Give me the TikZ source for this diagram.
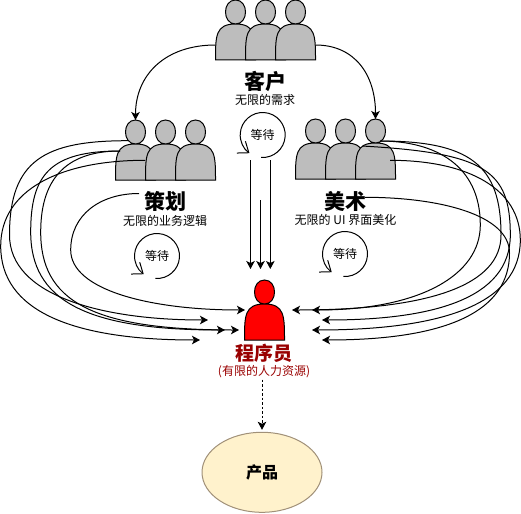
\documentclass[tikz,border=0pt]{standalone}
\usepackage{fontspec}
\setmainfont{Noto Sans CJK SC}
\usetikzlibrary{arrows.meta,shapes.geometric}
\definecolor{gente}{HTML}{BDBDBD}
\definecolor{rojotexto}{HTML}{990000}
\definecolor{crema}{HTML}{FFF2CC}
\definecolor{bordecrema}{HTML}{A09078}
\begin{document}
\begin{tikzpicture}[x=1pt,y=-1pt,line width=1pt,
		persona/.pic={
			\path[draw,fill] (-20,60) .. controls (-20,36) and (-20,24) .. (0,24)
				.. controls (-13.33,24) and (-13.33,0) .. (0,0)
				.. controls (13.33,0) and (13.33,24) .. (0,24)
				.. controls (20,24) and (20,36) .. (20,60) -- cycle;
		},
		titulo/.style={font=\fontsize{21}{24}\selectfont\bfseries},
		nota/.style={font=\fontsize{12}{14}\selectfont},
		flujo/.style={-{Stealth[length=8pt,width=8.5pt,inset=2pt]}},
		espera/.style={-{Straight Barb[length=9.5pt,width=14.6pt]}}]
	\useasboundingbox (0,0) rectangle (521,513);

	% Personas
	\foreach \px in {235.5,265.5,295.5} \pic[fill=gente] at (\px,0) {persona};
	\foreach \px in {135.5,165.5,195.5} \pic[fill=gente] at (\px,120) {persona};
	\foreach \px in {315.5,345.5,375.5} \pic[fill=gente] at (\px,119) {persona};
	\pic[fill=red] at (264.5,280) {persona};

	% Textos
	\node[titulo] (cliente) at (265,81) {客户};
	\node[nota] (clienteN) at (265,100) {无限的需求};
	\node[titulo] (planes) at (165,201) {策划};
	\node[nota] (planesN) at (165,220.5) {无限的业务逻辑};
	\node[titulo] (arte) at (345,201) {美术};
	\node[nota] (arteN) at (345.5,219.5) {无限的 UI 界面美化};
	\node[font=\fontsize{19}{22}\selectfont\bfseries,text=rojotexto] (programador) at (264,353.5) {程序员};
	\node[nota,text=rojotexto,inner sep=1pt] (recursos) at (264,372) {(有限的人力资源)};
	\node[draw=bordecrema,fill=crema,ellipse,minimum width=120pt,minimum height=80pt,inner sep=0pt,
		font=\fontsize{16}{19}\selectfont\bfseries] (producto) at (262,472.3) {产品};

	% Esperas
	\node[nota] (esperaC) at (262.7,135) {等待};
	\node[nota] (esperaP) at (157,256) {等待};
	\node[nota] (esperaA) at (345,254) {等待};
	\draw[espera] (esperaC.center) ++(-94:22.5pt) arc[start angle=-94,end angle=234,radius=22.5pt];
	\draw[espera] (esperaP.center) ++(-94:22.5pt) arc[start angle=-94,end angle=234,radius=22.5pt];
	\draw[espera] (esperaA.center) ++(-94:22.5pt) arc[start angle=-94,end angle=234,radius=22.5pt];

	% Puntos de salida y llegada
	\coordinate (cI) at (215.5,45);
	\coordinate (cD) at (315.5,45);
	\coordinate (pA) at (135.5,120);
	\coordinate (aA) at (375.5,119);
	\coordinate (v1) at (250.5,160);
	\coordinate (v2) at (260.5,200);
	\coordinate (v3) at (270.3,160);
	\coordinate (w1) at (250.5,269);
	\coordinate (w2) at (260.5,269);
	\coordinate (w3) at (270.3,269);
	\coordinate (p1) at (128,140.7);
	\coordinate (p2) at (120,151);
	\coordinate (p3) at (145,160.3);
	\coordinate (p4) at (139,193.5);
	\coordinate (l1) at (245,310);
	\coordinate (l2) at (208,320);
	\coordinate (l3) at (225,330);
	\coordinate (l4) at (239,330);
	\coordinate (l5) at (200,340);
	\coordinate (a1) at (380,141);
	\coordinate (a2) at (362,146);
	\coordinate (a3) at (390,160.3);
	\coordinate (a4) at (365,197.3);
	\coordinate (r1) at (292,310);
	\coordinate (r2) at (312,310);
	\coordinate (r3) at (322,320);
	\coordinate (r4) at (312,330);
	\coordinate (r5) at (322,340);

	% Del cliente a los equipos
	\draw[flujo] (cI) .. controls (165,45) and (135.5,75) .. (pA);
	\draw[flujo] (cD) .. controls (355,45) and (375.5,75) .. (aA);
	\draw[flujo] (v1) -- (w1);
	\draw[flujo] (v2) -- (w2);
	\draw[flujo] (v3) -- (w3);

	% Curvas de la izquierda
	\draw[flujo] (p4) .. controls (100,193.5) and (70.7,215) .. (70.7,250)
		.. controls (70.7,290) and (150,310) .. (l1);
	\draw[flujo] (p1) .. controls (45,140.7) and (9.5,160) .. (9.5,235)
		.. controls (9.5,295) and (100,320) .. (l2);
	\draw[flujo] (p2) .. controls (50,151) and (30.7,175) .. (30.7,232)
		.. controls (30.7,300) and (85,330) .. (l3);
	\draw[flujo] (p2) .. controls (70,151) and (40.7,175) .. (40.7,232)
		.. controls (40.7,300) and (90,330) .. (l4);
	\draw[flujo] (p3) .. controls (60,160.3) and (0.7,190) .. (0.7,246)
		.. controls (0.7,310) and (70,340) .. (l5);

	% Curvas de la derecha
	\draw[flujo] (a1) .. controls (470,141) and (501,165) .. (501,235)
		.. controls (501,285) and (430,310) .. (r1);
	\draw[flujo] (a1) .. controls (435,141) and (480.3,165) .. (480.3,225)
		.. controls (480.3,275) and (420,310) .. (r2);
	\draw[flujo] (a2) .. controls (485,153) and (510.3,170) .. (510.3,235)
		.. controls (510.3,300) and (430,320) .. (r3);
	\draw[flujo] (a3) .. controls (470,160.3) and (520.3,190) .. (520.3,240)
		.. controls (520.3,305) and (440,330) .. (r4);
	\draw[flujo] (a4) .. controls (440,197.3) and (509.5,215) .. (509.5,253)
		.. controls (509.5,310) and (450,340) .. (r5);

	% Hacia el producto
	\draw[flujo,dash pattern=on 2.5pt off 2pt] (producto.north |- recursos.south) -- ([yshift=2pt]producto.north);
\end{tikzpicture}
\end{document}
